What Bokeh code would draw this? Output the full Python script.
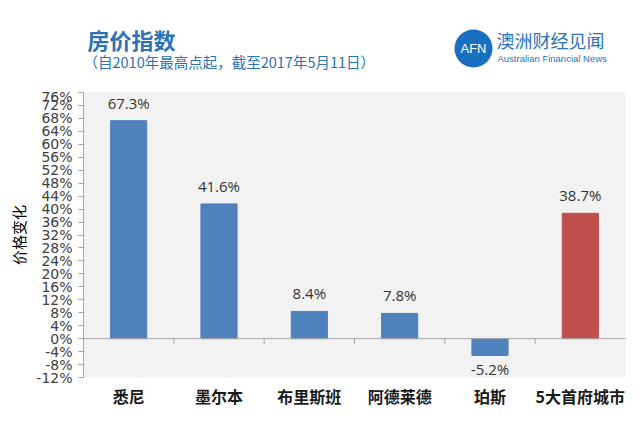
from bokeh.plotting import figure
from bokeh.layouts import column
from bokeh.models import ColumnDataSource, LabelSet, Label, Span, FixedTicker, CustomJSTickFormatter, FactorRange, Range1d
from bokeh.core.properties import value
from bokeh.embed import file_html
from bokeh.resources import INLINE

categories = ["悉尼", "墨尔本", "布里斯班", "阿德莱德", "珀斯", "5大首府城市"]
values = [67.3, 41.6, 8.4, 7.8, -5.2, 38.7]
colors = ["#4f81bd", "#4f81bd", "#4f81bd", "#4f81bd", "#4f81bd", "#c0504d"]
y_ticks = list(range(-12, 77, 4))

title_text = "房价指数"
subtitle_text = "（自2010年最高点起，截至2017年5月11日）"
y_label = "价格变化"
logo_mark = "AFN"
logo_cn = "澳洲财经见闻"
logo_en = "Australian Financial News"

FONT = "Noto Sans CJK SC"
blue = "#2b72b8"

W = 640
HH = 88          # header height
MH = 438 - HH    # main chart height
L, R, T, B = 83, 15, 4, 61
y0, y1 = -12, 76

# ---------------- header (pixel coordinates; frame aligned with chart frame) ----------------
h = figure(width=W, height=HH, x_range=Range1d(L, W - R), y_range=Range1d(HH, 0),
           output_backend="svg", toolbar_location=None, x_axis_type=None, y_axis_type=None,
           min_border_left=L, min_border_right=R, min_border_top=0, min_border_bottom=0)
h.outline_line_color = None
h.grid.visible = False
h.background_fill_color = "white"
h.border_fill_color = "white"

h.add_layout(Label(x=87, y=38, text=title_text, text_font=FONT, text_font_size="22px",
                   text_font_style="bold", text_color=blue, text_baseline="middle"))
h.add_layout(Label(x=83, y=61, text=subtitle_text, text_font=FONT, text_font_size="14.5px",
                   text_color=blue, text_baseline="middle"))
h.scatter(x=[473], y=[48], size=38, marker="circle", fill_color="#1a6fc0", line_color=None)
h.add_layout(Label(x=473, y=48, text=logo_mark, text_font="Liberation Sans", text_font_size="13px",
                   text_color="white", text_align="center", text_baseline="middle"))
h.add_layout(Label(x=496, y=39, text=logo_cn, text_font=FONT, text_font_size="18px",
                   text_color=blue, text_baseline="middle"))
h.add_layout(Label(x=497, y=58, text=logo_en, text_font="Liberation Sans",
                   text_font_size="9.5px", text_color=blue, text_baseline="middle"))

# ---------------- main chart ----------------
p = figure(width=W, height=MH, x_range=FactorRange(*categories, range_padding=0),
           y_range=Range1d(y0, y1), output_backend="svg", toolbar_location=None,
           min_border_left=L, min_border_right=R, min_border_top=T, min_border_bottom=B)
p.background_fill_color = "#f2f2f2"
p.border_fill_color = "white"
p.outline_line_color = None
p.xgrid.visible = False
p.ygrid.visible = False

src = ColumnDataSource(dict(cat=categories, val=values, color=colors))
p.vbar(x="cat", top="val", bottom=0, width=0.4, color="color", source=src)
p.add_layout(Span(location=0, dimension="width", line_color="#a6a6a6", line_width=1))
# small category-separator ticks on the zero line
sep = list(range(1, len(categories)))
p.segment(x0=sep, y0=[0] * len(sep), x1=sep, y1=[-1.6] * len(sep), line_color="#a6a6a6", line_width=1)

pos = ColumnDataSource(dict(cat=[c for c, v in zip(categories, values) if v >= 0],
                            val=[v for v in values if v >= 0],
                            lab=[f"{v:.1f}%" for v in values if v >= 0]))
neg = ColumnDataSource(dict(cat=[c for c, v in zip(categories, values) if v < 0],
                            val=[v for v in values if v < 0],
                            lab=[f"{v:.1f}%" for v in values if v < 0]))
p.add_layout(LabelSet(x="cat", y="val", text="lab", source=pos, text_align="center",
                      text_baseline="bottom", y_offset=8, text_font_size="15px",
                      text_color="#333333", text_font=value("Open Sans")))
p.add_layout(LabelSet(x="cat", y="val", text="lab", source=neg, text_align="center",
                      text_baseline="top", y_offset=-4, text_font_size="15px",
                      text_color="#333333", text_font=value("Open Sans")))

# axes
p.yaxis.ticker = FixedTicker(ticks=y_ticks)
p.yaxis.formatter = CustomJSTickFormatter(code="return tick + '%';")
p.yaxis.major_label_text_font_size = "14px"
p.yaxis.major_label_text_color = "#404040"
p.yaxis.major_label_text_font = "DejaVu Sans"
p.yaxis.major_label_standoff = 6
p.yaxis.major_tick_out = 5
p.yaxis.major_tick_in = 0
p.yaxis.minor_tick_line_color = None
p.yaxis.axis_line_color = "#a6a6a6"
p.yaxis.major_tick_line_color = "#a6a6a6"
p.yaxis.axis_label = y_label
p.yaxis.axis_label_text_font = FONT
p.yaxis.axis_label_text_font_style = "normal"
p.yaxis.axis_label_text_font_size = "15px"
p.yaxis.axis_label_text_color = "#000000"
p.yaxis.axis_label_standoff = 4

p.xaxis.axis_line_color = None
p.xaxis.major_tick_line_color = None
p.xaxis.major_tick_out = 0
p.xaxis.minor_tick_line_color = None
p.xaxis.major_label_text_font = FONT
p.xaxis.major_label_text_font_size = "16px"
p.xaxis.major_label_text_font_style = "bold"
p.xaxis.major_label_text_color = "#1a1a1a"
p.xaxis.major_label_standoff = 6

layout = column(h, p, spacing=0)
open("out.html", "w").write(file_html(layout, INLINE))
